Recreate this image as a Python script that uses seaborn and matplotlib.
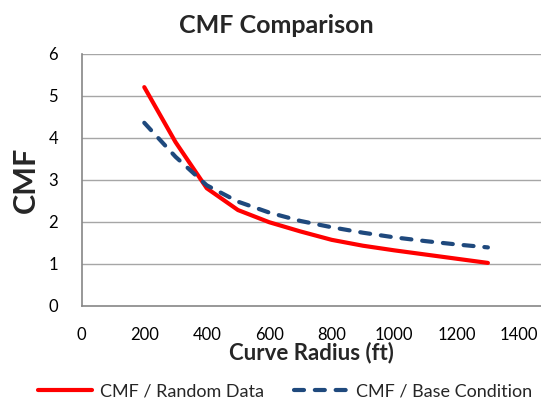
import pandas as pd
import matplotlib
matplotlib.use('Agg')
import matplotlib.pyplot as plt
import seaborn as sns

# Values
radius = [200, 300, 400, 500, 600, 700, 800, 900, 1000, 1100, 1200, 1300]
cmf_random = [5.21, 3.90, 2.80, 2.28, 1.99, 1.77, 1.57, 1.43, 1.32, 1.22, 1.12, 1.02]
cmf_base = [4.36, 3.55, 2.87, 2.48, 2.22, 2.02, 1.87, 1.74, 1.63, 1.54, 1.46, 1.39]
x_ticks = [0, 200, 400, 600, 800, 1000, 1200, 1400]
y_ticks = [0, 1, 2, 3, 4, 5, 6]

df = pd.DataFrame({'radius': radius, 'random': cmf_random, 'base': cmf_base})

sns.set_style('white')
plt.rcParams['font.family'] = ['Lato', 'DejaVu Sans']

fig = plt.figure(figsize=(5.41, 3.99), dpi=100)
ax = fig.add_axes([0.1512, 0.2338, 0.8488, 0.6309])

grid_col = '#a6a6a6'
for y in y_ticks[1:]:
    ax.axhline(y, color=grid_col, lw=1.0, zorder=0)

sns.lineplot(data=df, x='radius', y='random', ax=ax, color='#ff0000', lw=3.0,
             label='CMF / Random Data', solid_capstyle='round')
sns.lineplot(data=df, x='radius', y='base', ax=ax, color='#1f497d', lw=3.0,
             label='CMF / Base Condition', dashes=(2.4, 2.6), dash_capstyle='round')

ax.set_xlim(0, 1470)
ax.set_ylim(0, 6)
ax.set_xticks(x_ticks)
ax.set_yticks(y_ticks)
ax.tick_params(axis='both', direction='out', length=5, width=1, color='#868686',
               labelsize=12, colors='#868686', labelcolor='black')
ax.tick_params(axis='x', pad=10)
ax.tick_params(axis='y', pad=12)

for side in ['top', 'right']:
    ax.spines[side].set_visible(False)
for side in ['left', 'bottom']:
    ax.spines[side].set_color('#868686')
    ax.spines[side].set_linewidth(1.2)

ax.set_xlabel('Curve Radius (ft)', fontsize=16, fontweight='bold', labelpad=-1)
ax.set_ylabel('CMF', fontsize=22, fontweight='bold', labelpad=6)
fig.suptitle('CMF Comparison', fontsize=18, fontweight='bold', x=0.51, y=0.935, va='center')

handles, labels = ax.get_legend_handles_labels()
ax.get_legend().remove()
fig.legend(handles, labels, loc='center', bbox_to_anchor=(0.527, 0.018), ncol=2,
           frameon=False, fontsize=13, handlelength=3.0, columnspacing=1.7,
           handletextpad=0.4)

fig.savefig('out.png', dpi=100)
